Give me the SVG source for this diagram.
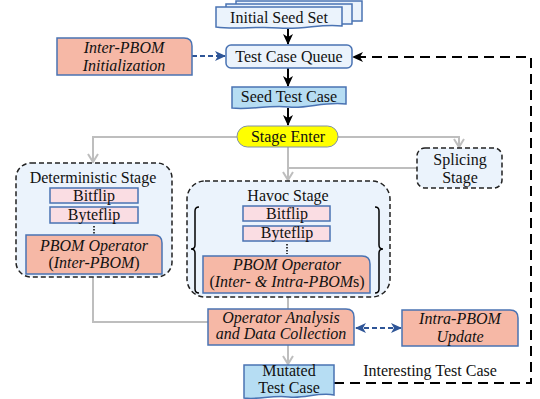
<svg xmlns="http://www.w3.org/2000/svg" width="540" height="399" viewBox="0 0 540 399" font-family="'Liberation Serif', 'Times New Roman', Times, 'DejaVu Serif', serif">
<style>
text{font-family:'Liberation Serif','Times New Roman',Times,'DejaVu Serif',serif}
.t{font-size:16px;fill:#111;text-anchor:middle}
.i{font-style:italic}
.n{font-style:normal}
.lb{fill:#EBF3FC;stroke:#4A73B3;stroke-width:1.5}
.sb{fill:#B6DDF3;stroke:#4A73B3;stroke-width:1.5}
.pk{fill:#FADDE3;stroke:#4A73B3;stroke-width:1.5}
.sa{fill:#F6B8A6;stroke:#4A73B3;stroke-width:1.5}
.stage{fill:#EBF3FC;stroke:#222;stroke-width:1.5;stroke-dasharray:5 3}
.gray{fill:none;stroke:#BEBEBE;stroke-width:2}
.blk{fill:none;stroke:#000;stroke-width:2}
.blu{fill:none;stroke:#2E5597;stroke-width:2;stroke-dasharray:5 3}
.dot{fill:none;stroke:#000;stroke-width:1.5;stroke-dasharray:1.5 1.5}
.brk{fill:none;stroke:#000;stroke-width:1.5}
</style>
<defs>
<marker id="ab" markerUnits="userSpaceOnUse" markerWidth="12" markerHeight="12" refX="10" refY="6" orient="auto"><path d="M0,1 L11,6 L0,11 L3,6 Z" fill="#000"/></marker>
<marker id="ag" markerUnits="userSpaceOnUse" markerWidth="12" markerHeight="12" refX="9" refY="6" orient="auto"><path d="M1,1 L9,6 L1,11" fill="none" stroke="#BEBEBE" stroke-width="2"/></marker>
<marker id="au" markerUnits="userSpaceOnUse" markerWidth="12" markerHeight="12" refX="10" refY="6" orient="auto-start-reverse"><path d="M0,1 L11,6 L0,11 L3,6 Z" fill="#2E5597"/></marker>
</defs>

<g id="connectors">
<path class="blk" d="M288,28 V44" marker-end="url(#ab)"/>
<path class="blk" d="M288,68 V86" marker-end="url(#ab)"/>
<path class="blk" d="M288,108 V125" marker-end="url(#ab)"/>
<path class="blu" d="M192,56 H225" marker-end="url(#au)"/>
<path class="gray" d="M237,137 H93 V162" marker-end="url(#ag)"/>
<path class="gray" d="M338,137 H459 V147" marker-end="url(#ag)"/>
<path class="gray" d="M288,147 V180" marker-end="url(#ag)"/>
<path class="gray" d="M417,168 H288"/>
<path class="gray" d="M93,277 V322 H208"/>
<path class="gray" d="M288,297 V309"/>
<path class="gray" d="M288,345 V364" marker-end="url(#ag)"/>
<path class="blu" d="M356,328 H401" marker-start="url(#au)" marker-end="url(#au)"/>
<path fill="none" stroke="#000" stroke-width="2" stroke-dasharray="10 6" d="M334,383 H531 V57 H353" marker-end="url(#ab)"/>
</g>

<g id="initial-seed-set">
<rect class="lb" x="236" y="1" width="126" height="20"/>
<rect class="lb" x="226" y="4" width="126" height="20"/>
<path class="lb" d="M216,7 H342 V26 C322,23 304,30 279,28 C256,26 236,30 216,27 Z"/>
<text class="t" x="279" y="23">Initial Seed Set</text>
</g>

<g id="test-case-queue">
<rect class="lb" x="226" y="45" width="126" height="23" rx="5"/>
<text class="t" x="289" y="62">Test Case Queue</text>
</g>

<g id="inter-pbom-init">
<path class="sa" d="M57,38 H184 Q192,38 192,46 V75 H57 Z"/>
<text class="t i" x="124" y="53">Inter-PBOM</text>
<text class="t i" x="124" y="71">Initialization</text>
</g>

<g id="seed-test-case">
<path class="sb" d="M232,87 H346 V104 C326,101 306,109 289,107 C268,105 250,110 232,108 Z"/>
<text class="t" x="289" y="102">Seed Test Case</text>
</g>

<g id="stage-enter">
<rect x="237" y="126" width="101" height="21" rx="10.5" fill="#FFFF00" stroke="#8090A8" stroke-width="1"/>
<text class="t" x="288" y="142">Stage Enter</text>
</g>

<g id="deterministic-stage">
<rect class="stage" x="16" y="163" width="156" height="114" rx="15"/>
<text class="t" x="93" y="183">Deterministic Stage</text>
<rect class="pk" x="50" y="188" width="88" height="15"/>
<text class="t" x="94" y="201">Bitflip</text>
<rect class="pk" x="50" y="207" width="88" height="16"/>
<text class="t" x="94" y="220">Byteflip</text>
<path class="dot" d="M94,226 V235"/>
<path class="sa" d="M26,235 H154 Q162,235 162,243 V274 H26 Z"/>
<text class="t i" x="94" y="251">PBOM Operator</text>
<text class="t i" x="94" y="268"><tspan class="n">(</tspan>Inter-PBOM<tspan class="n">)</tspan></text>
</g>

<g id="havoc-stage">
<rect class="stage" x="187" y="181" width="203" height="116" rx="18"/>
<text class="t" x="288" y="201">Havoc Stage</text>
<path class="brk" d="M199,207 Q195,207 195,211 V245 Q195,249 191,249 Q195,249 195,253 V289 Q195,293 199,293"/>
<path class="brk" d="M375,207 Q379,207 379,211 V245 Q379,249 383,249 Q379,249 379,253 V289 Q379,293 375,293"/>
<rect class="pk" x="243" y="206" width="87" height="15"/>
<text class="t" x="287" y="219">Bitflip</text>
<rect class="pk" x="243" y="226" width="87" height="15"/>
<text class="t" x="287" y="238">Byteflip</text>
<path class="dot" d="M287,244 V254"/>
<path class="sa" d="M203,256 H362 Q370,256 370,264 V293 H203 Z"/>
<text class="t i" x="287" y="270">PBOM Operator</text>
<text class="t i" x="287" y="287"><tspan class="n">(</tspan>Inter- &amp; Intra-PBOM<tspan class="n">s)</tspan></text>
</g>

<g id="splicing-stage">
<rect class="stage" x="417" y="148" width="85" height="40" rx="8"/>
<text class="t" x="460" y="165">Splicing</text>
<text class="t" x="460" y="183">Stage</text>
</g>

<g id="operator-analysis">
<path class="sa" d="M208,309 H346 Q354,309 354,317 V345 H208 Z"/>
<text class="t i" x="281" y="323">Operator Analysis</text>
<text class="t i" x="281" y="339">and Data Collection</text>
</g>

<g id="intra-pbom-update">
<path class="sa" d="M402,310 H510 Q518,310 518,318 V346 H402 Z"/>
<text class="t i" x="460" y="324">Intra-PBOM</text>
<text class="t i" x="460" y="342">Update</text>
</g>

<g id="mutated-test-case">
<path class="sb" d="M244,365 H334 V395 C318,392 304,399 289,397 C272,395 258,400 244,398 Z"/>
<text class="t" x="289" y="376">Mutated</text>
<text class="t" x="289" y="393">Test Case</text>
</g>

<g id="label-interesting">
<text class="t" x="430" y="376">Interesting Test Case</text>
</g>
</svg>
